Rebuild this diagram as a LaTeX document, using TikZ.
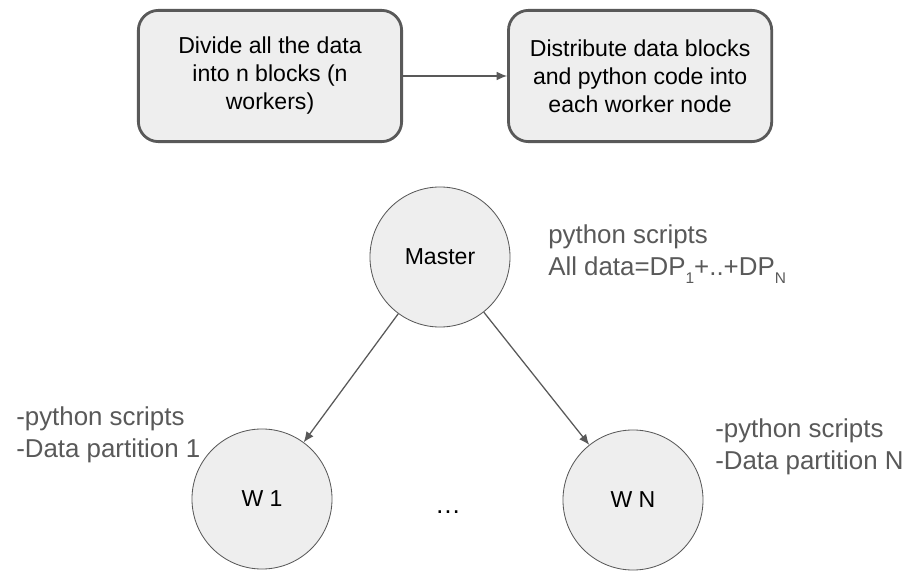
\documentclass[tikz,border=0pt]{standalone}
\usepackage{fontspec}
\setmainfont{Liberation Sans}
\usepackage{tikz}
\usetikzlibrary{arrows.meta,positioning,shapes,calc}
\definecolor{szary}{HTML}{595959}
\definecolor{tlo}{HTML}{EEEEEE}
\newcommand{\indeks}[1]{\raisebox{-0.55ex}{\fontsize{11}{11}\selectfont #1}}

\begin{document}
\begin{tikzpicture}[x=0.025cm, y=-0.025cm, auto]
\tikzset{
    %czubek strzalki
    >={Latex[length=2.6mm,width=2.2mm]},
    %styl bloku
    krok/.style={
           rectangle, rounded corners=5mm,
           line width=2pt, draw=szary,
           fill=tlo,
           minimum width=6.58cm,
           minimum height=3.28cm,
           align=center,
           font=\fontsize{16.4}{19.9}\selectfont},
    %styl wezla
    wezel/.style={
           circle, draw=szary, line width=0.6pt,
           fill=tlo, minimum size=3.5cm,
           font=\fontsize{16.4}{19.9}\selectfont},
    opis/.style={text=szary, align=left, inner sep=0pt,
           font=\fontsize{18.4}{22.7}\selectfont},
    strzalka/.style={->, line width=0.9pt, draw=szary}
}
\useasboundingbox (0,0) rectangle (917,572);

%Bloki
\node[krok] (podzial) at (270,76) {Divide all the data\\into n blocks (n\\workers)};
\node[krok, right=2.6cm of podzial] (rozdzial) {Distribute data blocks\\and python code into\\each worker node};

%Wezly
\node[wezel] (master) at (440,257) {Master};
\node[wezel] (w1) at (262,499) {W 1};
\node[wezel] (wn) at (633,500) {W N};
\node[font=\fontsize{18.4}{22.7}\selectfont] (kropki) at (448,512) {\dots};

%Opisy
\node[opis, anchor=west] (opismaster) at (548,254) {python scripts\\All data=DP\indeks{1}+..+DP\indeks{N}};
\node[opis, anchor=west] (opisw1) at (16,435) {-python scripts\\-Data partition 1};
\node[opis, anchor=west] (opiswn) at (715,447) {-python scripts\\-Data partition N};

%Strzalki
\draw[strzalka] (podzial) -- (rozdzial);
\draw[strzalka] (master) -- (w1);
\draw[strzalka] (master) -- (wn);
\end{tikzpicture}
\end{document}
